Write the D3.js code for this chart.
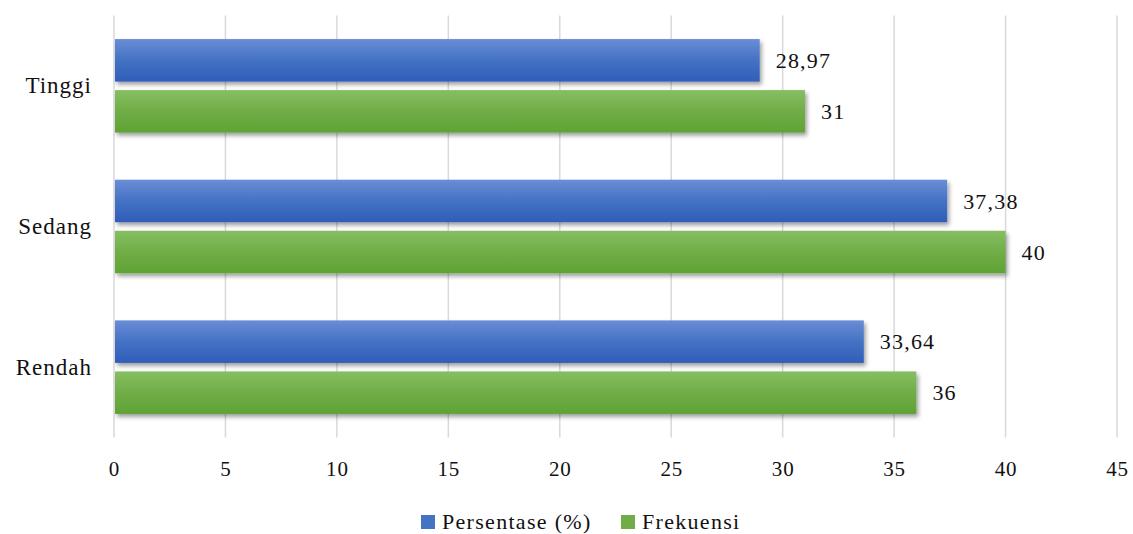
<!DOCTYPE html>
<html lang="en">
<head>
  <meta charset="UTF-8" />
  <title>Persentase dan Frekuensi</title>
  <script src="https://d3js.org/d3.v7.min.js"></script>
  <style>
    body { margin: 0; background: #fff; }
    svg { display: block; }
  </style>
</head>
<body>

<svg width="1133" height="534"></svg>

<script>
  const categories = ["Tinggi", "Sedang", "Rendah"];
  const seriesNames = ["Persentase (%)", "Frekuensi"];
  const persentase = [28.97, 37.38, 33.64];
  const frekuensi = [31, 40, 36];
  const persentaseLabels = ["28,97", "37,38", "33,64"];
  const frekuensiLabels = ["31", "40", "36"];
  const xTicks = [0, 5, 10, 15, 20, 25, 30, 35, 40, 45];

  const FONT = "'Liberation Serif', 'Times New Roman', 'DejaVu Serif', serif";

  const svg = d3.select("svg");
  const margin = { top: 15.5, right: 16, bottom: 96.5, left: 114 };
  const width = +svg.attr("width");
  const height = +svg.attr("height");
  const innerWidth = width - margin.left - margin.right;
  const innerHeight = height - margin.top - margin.bottom;

  const data = categories.map((c, i) => ({
    cat: c,
    values: [
      { key: seriesNames[0], value: persentase[i], label: persentaseLabels[i] },
      { key: seriesNames[1], value: frekuensi[i], label: frekuensiLabels[i] }
    ]
  }));

  // gradients + shadow
  const defs = svg.append("defs");
  const grads = [
    { id: "gBlue", top: "#6a8dd6", mid: "#4472c4", bot: "#2f5eb9" },
    { id: "gGreen", top: "#86bf62", mid: "#70ad47", bot: "#5fa334" }
  ];
  grads.forEach(gr => {
    const lg = defs.append("linearGradient").attr("id", gr.id)
      .attr("x1", 0).attr("y1", 0).attr("x2", 0).attr("y2", 1);
    lg.append("stop").attr("offset", "0%").attr("stop-color", gr.top);
    lg.append("stop").attr("offset", "50%").attr("stop-color", gr.mid);
    lg.append("stop").attr("offset", "100%").attr("stop-color", gr.bot);
  });
  const f = defs.append("filter").attr("id", "shadow")
    .attr("x", "-5%").attr("y", "-20%").attr("width", "115%").attr("height", "160%");
  f.append("feDropShadow").attr("dx", 2).attr("dy", 3).attr("stdDeviation", 2.2)
    .attr("flood-color", "#000").attr("flood-opacity", 0.38);

  const g = svg.append("g")
    .attr("transform", `translate(${margin.left},${margin.top})`);

  const x = d3.scaleLinear().domain([0, 45]).range([0, innerWidth]);

  const y0 = d3.scaleBand()
    .domain(categories)
    .range([0, innerHeight])
    .paddingInner(0.335)
    .paddingOuter(0.1675);

  const y1 = d3.scaleBand()
    .domain(seriesNames)
    .range([0, y0.bandwidth()])
    .paddingInner(0.1667);

  const color = d3.scaleOrdinal().domain(seriesNames).range(["url(#gBlue)", "url(#gGreen)"]);
  const swatch = d3.scaleOrdinal().domain(seriesNames).range(["#4472c4", "#70ad47"]);

  // grid
  g.append("g")
    .selectAll("line")
    .data(xTicks)
    .join("line")
    .attr("x1", d => x(d)).attr("x2", d => x(d))
    .attr("y1", 0).attr("y2", innerHeight)
    .attr("stroke", "#d9d9d9")
    .attr("stroke-width", 1.5);

  // x axis labels
  const xAxis = d3.axisBottom(x).tickValues(xTicks).tickSize(0).tickPadding(24);
  const xa = g.append("g")
    .attr("transform", `translate(0,${innerHeight})`)
    .call(xAxis)
    .attr("font-family", FONT)
    .attr("font-size", 21);
  xa.select(".domain").remove();
  xa.selectAll("text").attr("fill", "#111").attr("letter-spacing", 0.8);

  // y axis labels
  const yAxis = d3.axisLeft(y0).tickSize(0).tickPadding(22);
  const ya = g.append("g").call(yAxis)
    .attr("font-family", FONT)
    .attr("font-size", 23);
  ya.select(".domain").remove();
  ya.selectAll("text").attr("fill", "#111").attr("letter-spacing", 1);

  // bars
  const groups = g.selectAll(".grp")
    .data(data)
    .join("g")
    .attr("class", "grp")
    .attr("transform", d => `translate(0,${y0(d.cat)})`);

  groups.selectAll("rect")
    .data(d => d.values)
    .join("rect")
    .attr("x", x(0) + 1)
    .attr("y", d => y1(d.key))
    .attr("width", d => x(d.value) - x(0) - 1)
    .attr("height", y1.bandwidth())
    .attr("fill", d => color(d.key))
    .attr("filter", "url(#shadow)");

  groups.selectAll("text.val")
    .data(d => d.values)
    .join("text")
    .attr("class", "val")
    .attr("x", d => x(d.value) + 16)
    .attr("y", d => y1(d.key) + y1.bandwidth() / 2)
    .attr("dy", "0.35em")
    .attr("font-family", FONT)
    .attr("font-size", 22)
    .attr("letter-spacing", 1.2)
    .attr("fill", "#111")
    .text(d => d.label);

  // legend
  const legend = svg.append("g").attr("transform", "translate(421,515)");
  const legendX = [0, 200];
  seriesNames.forEach((s, i) => {
    const lg = legend.append("g").attr("transform", `translate(${legendX[i]},0)`);
    lg.append("rect").attr("width", 14).attr("height", 14).attr("fill", swatch(s));
    lg.append("text").attr("x", 21).attr("y", 14)
      .attr("font-family", FONT).attr("font-size", 22).attr("letter-spacing", 1.3)
      .attr("fill", "#111").text(s);
  });
</script>

</body>
</html>
